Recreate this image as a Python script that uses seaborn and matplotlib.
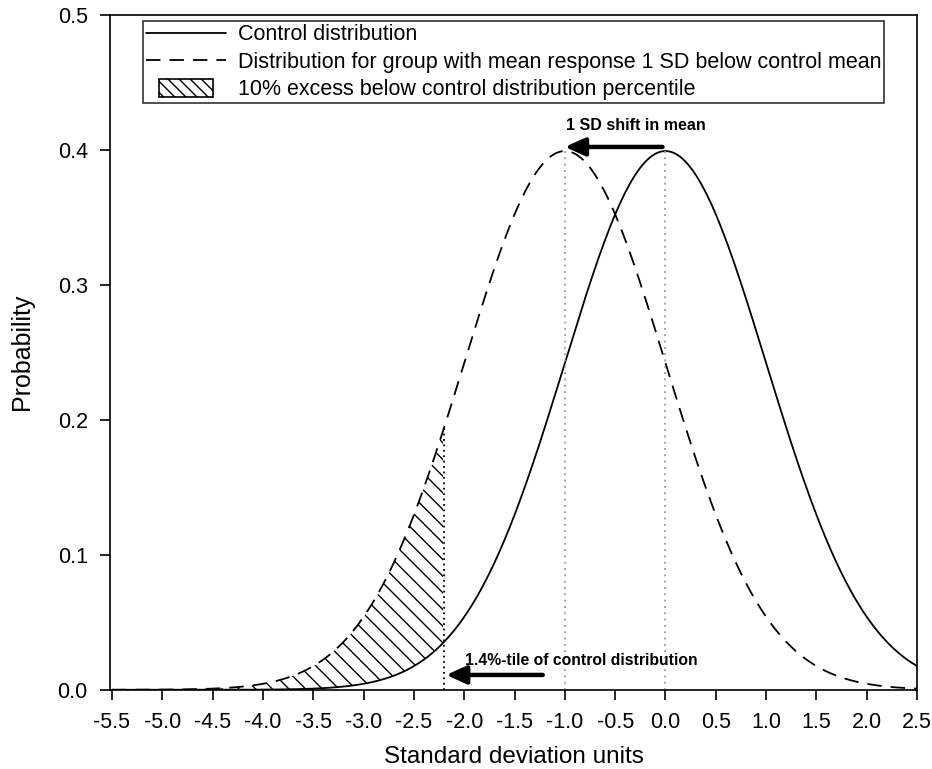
import numpy as np
import pandas as pd
import matplotlib
matplotlib.use("Agg")
import matplotlib.pyplot as plt
import seaborn as sns
from matplotlib.lines import Line2D
from matplotlib.patches import Patch, Rectangle
from matplotlib.legend_handler import HandlerPatch

# ---- data ----
series_names = ["Control distribution",
                "Distribution for group with mean response 1 SD below control mean"]
series_means = [0.0, -1.0]
series_sd = [1.0, 1.0]
cutoff = -2.2            # 1.4%-tile of control distribution
x_ticks = [-5.5, -5.0, -4.5, -4.0, -3.5, -3.0, -2.5, -2.0, -1.5, -1.0, -0.5,
           0.0, 0.5, 1.0, 1.5, 2.0, 2.5]
y_ticks = [0.0, 0.1, 0.2, 0.3, 0.4, 0.5]
hatch_label = "10% excess below control distribution percentile"
shift_label = "1 SD shift in mean"
pct_label = "1.4%-tile of control distribution"

sns.set_theme(style="white")
plt.rcParams['font.family'] = ['Liberation Sans', 'DejaVu Sans']
plt.rcParams['hatch.linewidth'] = 1.0
plt.rcParams['text.color'] = 'black'
plt.rcParams['axes.labelcolor'] = 'black'
plt.rcParams['xtick.color'] = 'black'
plt.rcParams['ytick.color'] = 'black'

x = np.linspace(-5.5, 2.5, 801)

def pdf(v, m, s):
    return np.exp(-0.5 * ((v - m) / s) ** 2) / (s * np.sqrt(2 * np.pi))

frames = []
for name, m, s in zip(series_names, series_means, series_sd):
    frames.append(pd.DataFrame({"x": x, "y": pdf(x, m, s), "series": name}))
df = pd.concat(frames, ignore_index=True)

fig = plt.figure(figsize=(9.32, 7.69), dpi=100)
ax = fig.add_axes([0.118, 0.103, 0.866, 0.878])

sns.lineplot(data=df[df.series == series_names[0]], x="x", y="y", ax=ax,
             color="black", linewidth=1.3, legend=False)
sns.lineplot(data=df[df.series == series_names[1]], x="x", y="y", ax=ax,
             color="black", linewidth=1.3, legend=False, dashes=False)
ax.lines[1].set_dashes([8, 5])

# hatched excess area
mask = x <= cutoff
ax.fill_between(x[mask], pdf(x[mask], series_means[0], series_sd[0]),
                pdf(x[mask], series_means[1], series_sd[1]),
                facecolor="none", edgecolor="black", hatch="\\\\", linewidth=0)

# vertical reference lines
ax.vlines(cutoff, 0, pdf(cutoff, series_means[1], series_sd[1]),
          colors="black", linestyles=(0, (1, 2)), linewidth=1.3)
for m in series_means:
    ax.vlines(m, 0, pdf(m, m, 1.0), colors="#999999",
              linestyles=(0, (1, 2.5)), linewidth=1.3)

# arrows & annotations
ax.annotate("", xy=(-1.0, 0.402), xytext=(-0.03, 0.402),
            arrowprops=dict(arrowstyle="-|>,head_length=1.0,head_width=0.45",
                            color="black", lw=3.2, shrinkA=0, shrinkB=0))
ax.text(-0.99, 0.412, shift_label, fontsize=11.5, fontweight="bold",
        ha="left", va="bottom", color="black")
ax.annotate("", xy=(-2.18, 0.011), xytext=(-1.22, 0.011),
            arrowprops=dict(arrowstyle="-|>,head_length=1.0,head_width=0.45",
                            color="black", lw=3.2, shrinkA=0, shrinkB=0))
ax.text(-1.99, 0.0165, pct_label, fontsize=11.3, fontweight="bold",
        ha="left", va="bottom", color="black")

ax.set_xlim(-5.52, 2.5)
ax.set_ylim(0, 0.5)
ax.set_xticks(x_ticks)
ax.set_xticklabels([f"{t:.1f}" for t in x_ticks])
ax.set_yticks(y_ticks)
ax.set_yticklabels([f"{t:.1f}" for t in y_ticks])
ax.tick_params(axis="both", direction="out", length=7, width=1.2,
               labelsize=15.5, bottom=True, left=True, colors="black", pad=9)
for sp in ax.spines.values():
    sp.set_color("black")
    sp.set_linewidth(1.2)
ax.set_xlabel("Standard deviation units", fontsize=17.5, labelpad=9)
ax.set_ylabel("Probability", fontsize=18, labelpad=17)


def narrow_patch(legend, orig_handle, xdescent, ydescent, width, height, fontsize):
    w = width * 0.68
    return Rectangle((-xdescent + (width - w) / 2, -ydescent - height * 0.1),
                     w, height * 1.15)


handles = [Line2D([], [], color="black", lw=1.3),
           Line2D([], [], color="black", lw=1.3, dashes=[8, 5]),
           Patch(facecolor="none", edgecolor="black", hatch="\\\\\\", lw=1.2)]
labels = [series_names[0], series_names[1], hatch_label]
leg = ax.legend(handles, labels, loc="upper center", bbox_to_anchor=(0.5, 1.0),
                fontsize=15.5, frameon=True, fancybox=False, edgecolor="black",
                handlelength=3.7, borderpad=0.15, labelspacing=0.3,
                handletextpad=0.55, borderaxespad=0.3,
                handler_map={Patch: HandlerPatch(patch_func=narrow_patch)})
leg.get_frame().set_linewidth(1.2)

fig.savefig("out.png", dpi=100)
